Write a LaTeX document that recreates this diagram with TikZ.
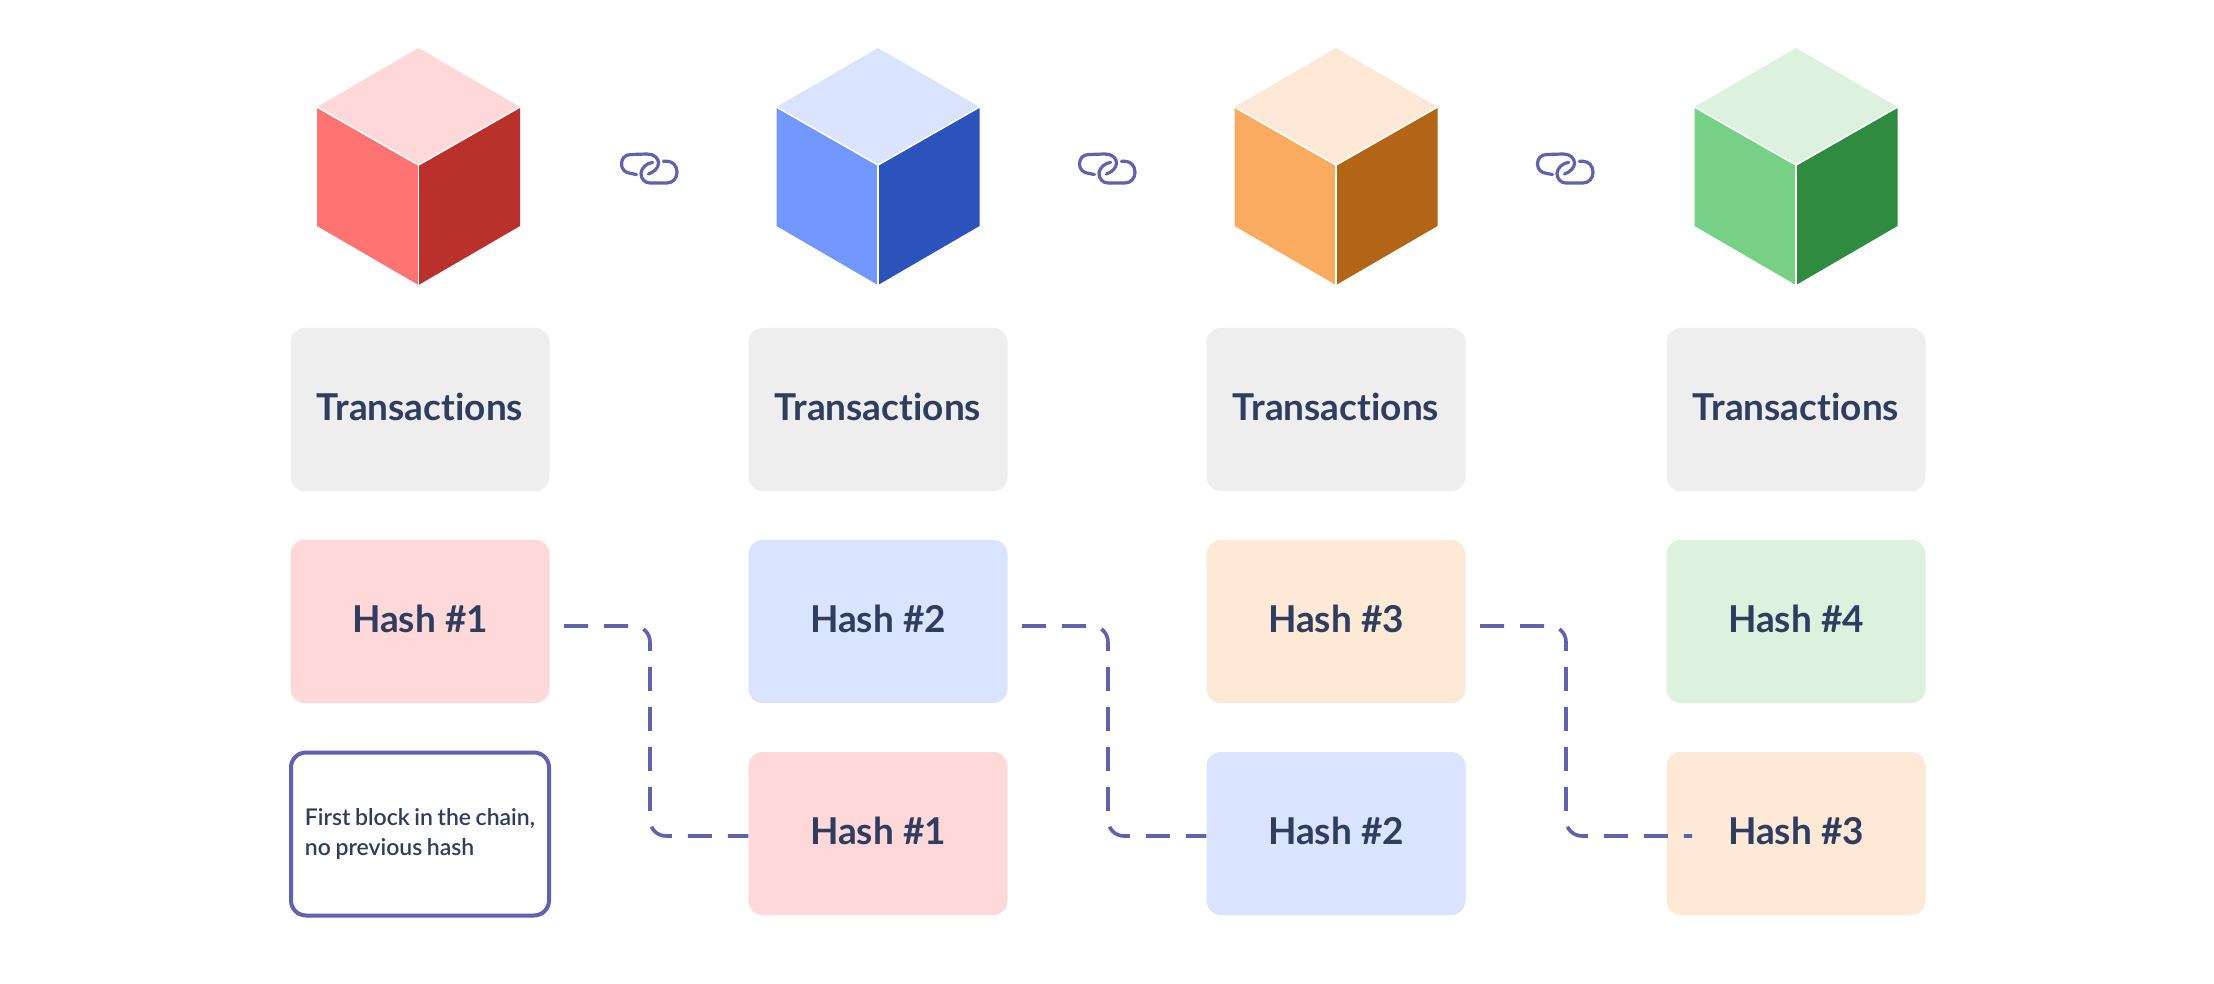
\documentclass[tikz,border=0pt]{standalone}
\usepackage{fontspec}
\setmainfont{Lato}[Ligatures=CommonOff]
\newfontfamily\medfont{Lato Semibold}[Ligatures=CommonOff,WordSpace=0.8]
\definecolor{ink}{HTML}{2F3E5E}
\definecolor{link}{HTML}{5F62AD}
\definecolor{greybox}{HTML}{EEEEEE}
\definecolor{rtop}{HTML}{FFD9D9}\definecolor{rleft}{HTML}{FF7373}\definecolor{rright}{HTML}{B9312A}
\definecolor{btop}{HTML}{DAE4FF}\definecolor{bleft}{HTML}{7298FF}\definecolor{bright}{HTML}{2C53BC}
\definecolor{otop}{HTML}{FEE8D6}\definecolor{oleft}{HTML}{F9AC60}\definecolor{oright}{HTML}{B26517}
\definecolor{gtop}{HTML}{DCF2DF}\definecolor{gleft}{HTML}{76D086}\definecolor{gright}{HTML}{2E8B40}
\tikzset{
  x=1pt,y=-1pt,
  tile/.style={minimum width=259pt,minimum height=163pt,rounded corners=14pt,inner sep=0pt,text=ink,font=\fontsize{37}{40}\selectfont\bfseries,text height=31pt,text depth=10pt,anchor=center},
  note/.style={minimum width=258pt,minimum height=163pt,rounded corners=15pt,draw=link,line width=4pt,fill=white,text=ink,inner sep=0pt,anchor=center,align=left,font=\medfont\fontsize{23}{30}\selectfont},
  hashlink/.style={draw=link,line width=3.6pt,rounded corners=16pt,dash pattern=on 24pt off 16pt},
  chain/.style={draw=link,line width=3.2pt,line cap=round,line join=round},
  seam/.style={draw=white,line width=1.6pt,line cap=round}
}
\newcommand{\cube}[4]{%
  \begin{scope}[shift={(#1,0)}]
    \fill[#2] (0,48) -- (101.5,107) -- (0,165) -- (-101.5,107) -- cycle;
    \fill[#3] (-101.5,107) -- (0,165) -- (0,285) -- (-101.5,226) -- cycle;
    \fill[#4] (101.5,107) -- (0,165) -- (0,285) -- (101.5,226) -- cycle;
    \draw[seam] (-101.5,107) -- (0,165) -- (101.5,107);
    \draw[seam] (0,165) -- (0,285);
  \end{scope}}
\newcommand{\chainicon}[1]{%
  \begin{scope}[shift={(#1,168)}]
    \draw[chain] (-13.5,6.5) -- (-19,5.5) .. controls (-25,5) and (-28.5,1) .. (-28.5,-4)
      .. controls (-28.5,-9.5) and (-25,-13.5) .. (-19,-13.5) -- (-3,-14)
      .. controls (4,-14) and (8.5,-10) .. (8.5,-5) .. controls (8.5,0) and (4,4) .. (-1.5,6);
    \draw[chain] (2.7,-5.7) .. controls (-3,-5) and (-9,0) .. (-9,5.5)
      .. controls (-9,11) and (-5,15) .. (0,15) -- (17,15)
      .. controls (23,15) and (27,10) .. (27,4.5) .. controls (27,-2) and (23,-6.7) .. (17,-6.7) -- (13.3,-6.7);
  \end{scope}}
\begin{document}
\begin{tikzpicture}
\useasboundingbox (0,0) rectangle (2214,984);
\fill[white] (0,0) rectangle (2214,984);
\cube{418.5}{rtop}{rleft}{rright}
\cube{878}{btop}{bleft}{bright}
\cube{1336}{otop}{oleft}{oright}
\cube{1796}{gtop}{gleft}{gright}
\chainicon{650}
\chainicon{1108}
\chainicon{1566}
\foreach \n/\cx in {a/420,b/878,c/1336,d/1796}
  \node[tile,fill=greybox] (tx\n) at (\cx,409.5) {Transactions};
\node[tile,fill=rtop] (ha) at (420,621.5) {Hash \#1};
\node[tile,fill=btop] (hb) at (878,621.5) {Hash \#2};
\node[tile,fill=otop] (hc) at (1336,621.5) {Hash \#3};
\node[tile,fill=gtop] (hd) at (1796,621.5) {Hash \#4};
\node[note] (first) at (420,834) {First block in the chain,\\no previous hash};
\node[tile,fill=rtop] (pb) at (878,833.5) {Hash \#1};
\node[tile,fill=btop] (pc) at (1336,833.5) {Hash \#2};
\node[tile,fill=otop] (pd) at (1796,833.5) {Hash \#3};
\coordinate (sa) at (564,626);
\coordinate (sb) at (1022,626);
\coordinate (sc) at (1480,626);
\coordinate (ed) at (1692,836);
\draw[hashlink] (sa) -| (650,836) -- (pb.west |- 0,836);
\draw[hashlink] (sb) -| (1108,836) -- (pc.west |- 0,836);
\draw[hashlink] (sc) -| (1566,836) -- (ed);
\end{tikzpicture}
\end{document}
